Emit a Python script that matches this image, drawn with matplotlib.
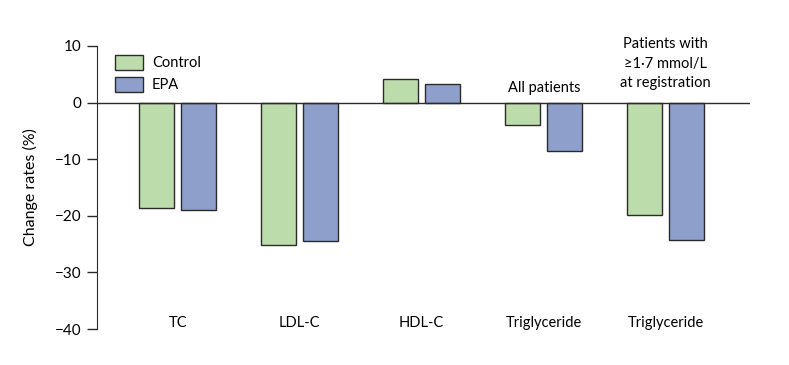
import numpy as np
import matplotlib.pyplot as plt
from matplotlib.patches import Patch

plt.rcParams['font.family'] = ['Lato', 'DejaVu Sans']

categories = ["TC", "LDL-C", "HDL-C", "Triglyceride", "Triglyceride"]
control = [-18.7, -25.2, 4.2, -3.9, -19.9]
epa = [-19.0, -24.5, 3.2, -8.5, -24.2]

green = "#bddcab"
blue = "#8e9fcc"
edge = "#2b2b2b"
fs = 10.5

fig = plt.figure(figsize=(7.89, 3.65), dpi=100)
ax = fig.add_axes([0.123, 0.0986, 0.8276, 0.7754])

x = np.arange(len(categories))
w = 0.287
off = 0.172
ax.bar(x - off, control, w, color=green, edgecolor=edge, linewidth=1)
ax.bar(x + off, epa, w, color=blue, edgecolor=edge, linewidth=1)
ax.axhline(0, color=edge, linewidth=1)

ax.set_xlim(-0.66, 4.69)
ax.set_ylim(-40, 10)
ax.set_yticks(np.arange(-40, 11, 10))
ax.set_yticklabels(["\u221240", "\u221230", "\u221220", "\u221210", "0", "10"], fontsize=11)
ax.set_xticks([])
for s in ["top", "right", "bottom"]:
    ax.spines[s].set_visible(False)
ax.spines["left"].set_color(edge)
ax.tick_params(axis="y", direction="out", length=7, color=edge, width=1, pad=4)
ax.set_ylabel("Change rates (%)", fontsize=11.5, labelpad=12)

for i, c in enumerate(categories):
    ax.text(i, -38.9, c, ha="center", va="center", fontsize=fs)

ax.text(3, 2.6, "All patients", ha="center", va="center", fontsize=fs)
ax.text(4, 6.9, "Patients with\n\u22651\u00b77 mmol/L\nat registration",
        ha="center", va="center", fontsize=fs, linespacing=1.5)

handles = [Patch(facecolor=green, edgecolor=edge, label="Control"),
           Patch(facecolor=blue, edgecolor=edge, label="EPA")]
ax.legend(handles=handles, loc="upper left", bbox_to_anchor=(0.008, 1.015),
          frameon=False, fontsize=fs, handlelength=1.9, handleheight=1.2,
          handletextpad=0.6, labelspacing=0.45)

fig.savefig("out.png", dpi=100)
